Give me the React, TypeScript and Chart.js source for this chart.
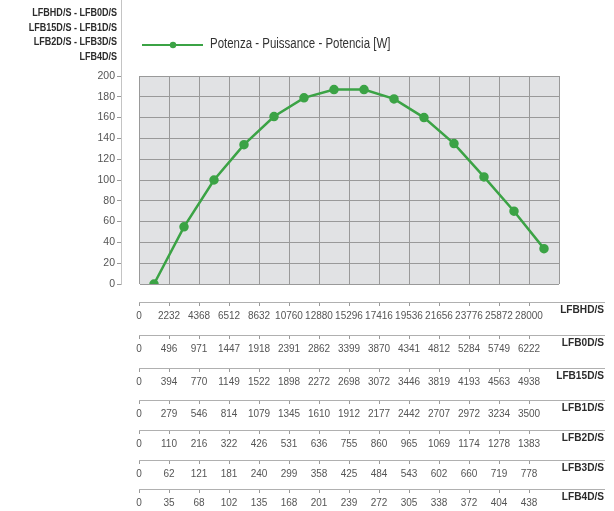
import React, { useEffect, useRef } from "react";
import { Chart, registerables } from "chart.js";

Chart.register(...registerables);

// ---- data ----
const seriesLabel = "Potenza - Puissance - Potencia [W]";
const powerW = [0, 55, 100, 134, 161, 179, 187, 187, 178, 160, 135, 103, 70, 34];

const yTitleLines = ["LFBHD/S - LFB0D/S", "LFB15D/S - LFB1D/S", "LFB2D/S - LFB3D/S", "LFB4D/S"];

const rowNames = ["LFBHD/S", "LFB0D/S", "LFB15D/S", "LFB1D/S", "LFB2D/S", "LFB3D/S", "LFB4D/S"];
const lfbhd = ["0", "2232", "4368", "6512", "8632", "10760", "12880", "15296", "17416", "19536", "21656", "23776", "25872", "28000"];
const lfb0d = ["0", "496", "971", "1447", "1918", "2391", "2862", "3399", "3870", "4341", "4812", "5284", "5749", "6222"];
const lfb15d = ["0", "394", "770", "1149", "1522", "1898", "2272", "2698", "3072", "3446", "3819", "4193", "4563", "4938"];
const lfb1d = ["0", "279", "546", "814", "1079", "1345", "1610", "1912", "2177", "2442", "2707", "2972", "3234", "3500"];
const lfb2d = ["0", "110", "216", "322", "426", "531", "636", "755", "860", "965", "1069", "1174", "1278", "1383"];
const lfb3d = ["0", "62", "121", "181", "240", "299", "358", "425", "484", "543", "602", "660", "719", "778"];
const lfb4d = ["0", "35", "68", "102", "135", "168", "201", "239", "272", "305", "338", "372", "404", "438"];
const rows = [lfbhd, lfb0d, lfb15d, lfb1d, lfb2d, lfb3d, lfb4d];

const yTicks = { min: 0, max: 200, step: 20 };

// ---- styles ----
const FONT = "'Liberation Sans', Arial, sans-serif";
const GREEN = "#3ba345";
const rowHeights = [33, 33, 32, 30, 30, 29, 22];

function narrowText(ctx: any, text: string, x: number, y: number, sx: number) {
  ctx.save();
  ctx.translate(x, y);
  ctx.scale(sx, 1);
  ctx.fillText(text, 0, 0);
  ctx.restore();
}

const decorPlugin = {
  id: "decor",
  beforeDraw(chart: any) {
    const { ctx, chartArea } = chart;
    ctx.save();
    ctx.fillStyle = "#e1e2e4";
    ctx.fillRect(chartArea.left, chartArea.top, chartArea.right - chartArea.left, chartArea.bottom - chartArea.top);
    ctx.restore();
  },
  afterDraw(chart: any) {
    const { ctx } = chart;
    const ys = chart.scales.y;
    ctx.save();
    // y axis line extension upward
    ctx.strokeStyle = "#c4c4c4";
    ctx.lineWidth = 1;
    ctx.beginPath();
    ctx.moveTo(Math.round(ys.right) + 0.5, 0);
    ctx.lineTo(Math.round(ys.right) + 0.5, ys.top);
    ctx.stroke();
    // y title lines
    ctx.fillStyle = "#2b2b2b";
    ctx.font = "bold 11px " + FONT;
    ctx.textAlign = "right";
    ctx.textBaseline = "middle";
    yTitleLines.forEach((t, i) => narrowText(ctx, t, ys.right - 4, 13 + i * 14.7, 0.82));
    // legend
    const ds = chart.data.datasets[0];
    const ly = 45;
    ctx.strokeStyle = ds.borderColor;
    ctx.lineWidth = 2;
    ctx.beginPath();
    ctx.moveTo(142, ly);
    ctx.lineTo(203, ly);
    ctx.stroke();
    ctx.fillStyle = ds.borderColor;
    ctx.beginPath();
    ctx.arc(173, ly, 3.2, 0, Math.PI * 2);
    ctx.fill();
    ctx.fillStyle = "#333";
    ctx.font = "15.5px " + FONT;
    ctx.textAlign = "left";
    narrowText(ctx, ds.label, 210, ly - 1, 0.74);
    // table row extensions + names
    rowNames.forEach((name, i) => {
      const s = chart.scales["t" + i];
      const yy = Math.round(s.top) + 0.5;
      ctx.strokeStyle = "#b0b0b0";
      ctx.lineWidth = 1;
      ctx.beginPath();
      ctx.moveTo(s.right, yy);
      ctx.lineTo(605, yy);
      ctx.stroke();
      ctx.fillStyle = "#2b2b2b";
      ctx.font = "bold 11.5px " + FONT;
      ctx.textAlign = "right";
      narrowText(ctx, name, 604, s.top + 7.5, 0.88);
    });
    ctx.restore();
  },
};

export default function App() {
  const ref = useRef<HTMLCanvasElement | null>(null);
  useEffect(() => {
    if (!ref.current) return;
    const tableScales: any = {};
    rows.forEach((vals, i) => {
      tableScales["t" + i] = {
        type: "category",
        position: "bottom",
        weight: i + 1,
        labels: [...vals, ""],
        offset: false,
        afterFit: (s: any) => {
          s.height = rowHeights[i];
        },
        border: { display: true, color: "#b0b0b0", width: 1 },
        grid: {
          display: true,
          drawOnChartArea: false,
          drawTicks: true,
          tickLength: 4,
          tickColor: (c: any) => (c.index === vals.length ? "rgba(0,0,0,0)" : "#9a9a9a"),
        },
        ticks: {
          autoSkip: false,
          maxRotation: 0,
          minRotation: 0,
          padding: 4,
          color: "#555",
          font: { family: FONT, size: 10 },
        },
      };
    });
    const chart = new Chart(ref.current, {
      type: "line",
      data: {
        labels: lfbhd,
        datasets: [
          {
            label: seriesLabel,
            data: powerW,
            borderColor: GREEN,
            backgroundColor: GREEN,
            borderWidth: 2.5,
            pointRadius: 3.5,
            pointBackgroundColor: GREEN,
            pointBorderColor: GREEN,
            tension: 0,
          },
        ],
      },
      options: {
        animation: false,
        responsive: true,
        maintainAspectRatio: false,
        layout: { padding: { top: 76, left: 81, right: 55, bottom: 0 } },
        plugins: { legend: { display: false }, tooltip: { enabled: false } },
        scales: {
          x: {
            type: "category",
            position: "bottom",
            weight: 0,
            offset: true,
            afterFit: (s: any) => {
              s.height = 18;
            },
            border: { display: false },
            grid: { display: true, offset: true, color: "#999", drawTicks: false, lineWidth: 1 },
            ticks: { display: false },
          },
          ...tableScales,
          y: {
            type: "linear",
            position: "left",
            weight: 1,
            min: yTicks.min,
            max: yTicks.max,
            afterFit: (s: any) => {
              s.width = 40;
            },
            border: { display: true, color: "#c4c4c4" },
            grid: { color: "#999", tickColor: "#9a9a9a", tickLength: 4 },
            ticks: { stepSize: yTicks.step, padding: 2, color: "#555", font: { family: FONT, size: 10.5 } },
          },
          gap: {
            type: "linear",
            position: "left",
            weight: 0,
            display: true,
            afterFit: (s: any) => {
              s.width = 18;
            },
            border: { display: false },
            grid: { display: false },
            ticks: { display: false },
          },
        },
      } as any,
      plugins: [decorPlugin],
    });
    return () => chart.destroy();
  }, []);
  return (
    <div style={{ position: "fixed", left: 0, top: 0, width: 614, height: 511, background: "#fff" }}>
      <canvas ref={ref} />
    </div>
  );
}
